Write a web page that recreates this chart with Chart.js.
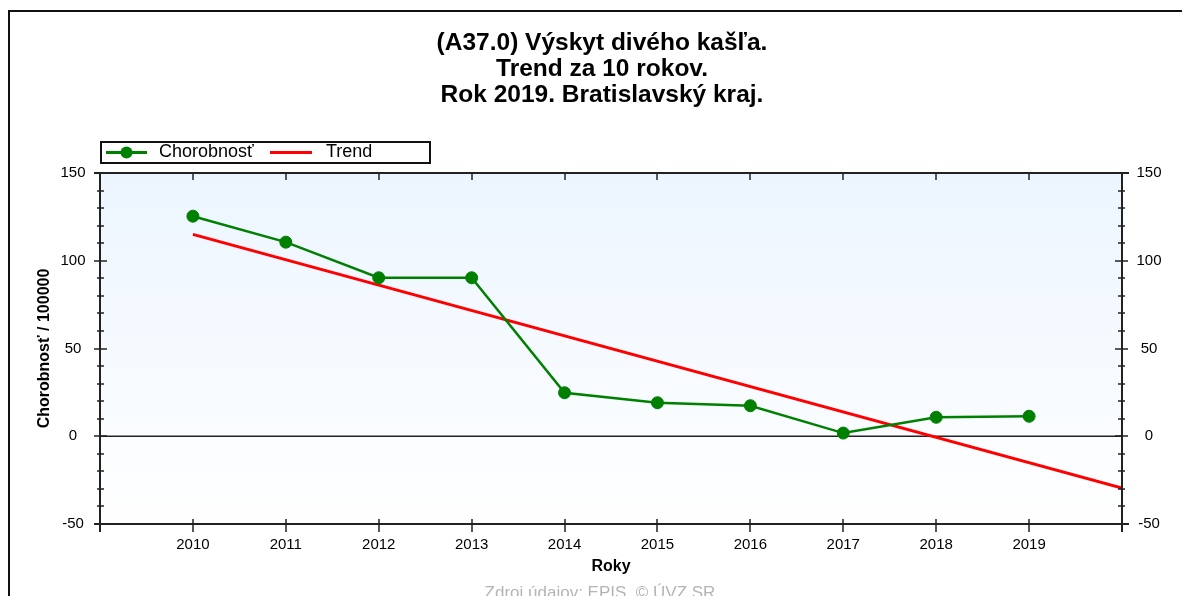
<!DOCTYPE html>
<html>
<head>
<meta charset="utf-8">
<script src="https://cdn.jsdelivr.net/npm/chart.js@4/dist/chart.umd.min.js"></script>
<style>
  html, body { margin: 0; padding: 0; background: #ffffff; }
  #wrap { width: 1182px; height: 596px; position: relative; overflow: hidden; }
</style>
</head>
<body>
<div id="wrap"><canvas id="c" width="1182" height="596"></canvas></div>
<script>
// ---- data ----
const titleLines = ["(A37.0) Výskyt divého kašľa.", "Trend za 10 rokov.", "Rok 2019. Bratislavský kraj."];
const years = [2010, 2011, 2012, 2013, 2014, 2015, 2016, 2017, 2018, 2019];
const incidence = [125.4, 110.6, 90.3, 90.3, 24.8, 19.1, 17.4, 1.8, 10.8, 11.4];
const trendYears = [2010, 2020];
const trendValues = [115.0, -29.5];
const yTicks = [-50, 0, 50, 100, 150];
const seriesNames = ["Chorobnosť", "Trend"];
const yAxisTitle = "Chorobnosť / 100000";
const xAxisTitle = "Roky";
const sourceText = "Zdroj údajov: EPIS, © ÚVZ SR";

const FONT = "'Liberation Sans', Arial, sans-serif";
Chart.defaults.font.family = FONT;
Chart.defaults.color = '#000';

const GREEN = '#008000';
const RED = '#ff0000';

const decorPlugin = {
  id: 'decor',
  beforeDraw(chart) {
    const ctx = chart.ctx;
    const a = chart.chartArea;
    ctx.save();
    ctx.fillStyle = '#ffffff';
    ctx.fillRect(0, 0, chart.width, chart.height);
    const g = ctx.createLinearGradient(0, a.top, 0, a.bottom);
    g.addColorStop(0, '#ecf5ff');
    g.addColorStop(1, '#ffffff');
    ctx.fillStyle = g;
    ctx.fillRect(a.left, a.top, a.right - a.left, a.bottom - a.top);
    ctx.restore();
  },
  beforeDatasetsDraw(chart) {
    const ctx = chart.ctx;
    const a = chart.chartArea;
    const y0 = chart.scales.y.getPixelForValue(0);
    ctx.save();
    ctx.strokeStyle = '#222';
    ctx.lineWidth = 1.5;
    ctx.beginPath();
    ctx.moveTo(a.left, y0);
    ctx.lineTo(a.right, y0);
    ctx.stroke();
    ctx.restore();
  },
  afterDraw(chart) {
    const ctx = chart.ctx;
    const a = chart.chartArea;
    const xs = chart.scales.x;
    const ys = chart.scales.y;
    ctx.save();
    // outer frame
    ctx.fillStyle = '#111';
    ctx.fillRect(8, 10, chart.width - 8, 2);
    ctx.fillRect(8, 10, 2, chart.height - 10);

    // axes frame
    ctx.strokeStyle = '#222';
    ctx.lineWidth = 2;
    ctx.beginPath();
    ctx.moveTo(a.left - 6, a.top); ctx.lineTo(a.right + 7, a.top);
    ctx.moveTo(a.left - 6, a.bottom); ctx.lineTo(a.right + 7, a.bottom);
    ctx.moveTo(a.left, a.top); ctx.lineTo(a.left, a.bottom + 8);
    ctx.moveTo(a.right, a.top); ctx.lineTo(a.right, a.bottom + 8);
    ctx.stroke();

    // y ticks (major crossing, minor small)
    ctx.lineWidth = 1.5;
    ctx.beginPath();
    for (let v = ys.min; v <= ys.max; v += 10) {
      const py = Math.round(ys.getPixelForValue(v));
      const major = (v % 50 === 0);
      const l = major ? 6 : 3;
      ctx.moveTo(a.left - l, py); ctx.lineTo(a.left + l + 1, py);
      ctx.moveTo(a.right - l - 1, py); ctx.lineTo(a.right + l, py);
    }
    // x ticks
    for (let v = xs.min; v <= xs.max; v += 1) {
      const px = Math.round(xs.getPixelForValue(v));
      ctx.moveTo(px, a.bottom - 5); ctx.lineTo(px, a.bottom + 8);
      ctx.moveTo(px, a.top); ctx.lineTo(px, a.top + 7);
    }
    ctx.stroke();

    // title
    ctx.fillStyle = '#000';
    ctx.textAlign = 'center';
    ctx.textBaseline = 'alphabetic';
    ctx.font = 'bold 24.5px ' + FONT;
    const tx = 602;
    const baselines = [50, 75.5, 101.5];
    titleLines.forEach((t, i) => ctx.fillText(t, tx, baselines[i]));

    // legend
    ctx.lineWidth = 2;
    ctx.strokeStyle = '#111';
    ctx.strokeRect(101, 142, 329, 21);
    const ly = 152.5;
    ctx.strokeStyle = GREEN;
    ctx.lineWidth = 3;
    ctx.beginPath(); ctx.moveTo(106, ly); ctx.lineTo(147, ly); ctx.stroke();
    ctx.fillStyle = GREEN;
    ctx.beginPath(); ctx.arc(126.5, ly, 6, 0, Math.PI * 2); ctx.fill();
    ctx.strokeStyle = RED;
    ctx.beginPath(); ctx.moveTo(270, ly); ctx.lineTo(312, ly); ctx.stroke();
    ctx.fillStyle = '#000';
    ctx.font = '18px ' + FONT;
    ctx.textAlign = 'left';
    ctx.textBaseline = 'middle';
    ctx.fillText(chart.data.datasets[0].label, 159, ly);
    ctx.fillText(chart.data.datasets[1].label, 326, ly);

    // source
    ctx.fillStyle = '#b4b4b4';
    ctx.font = '17px ' + FONT;
    ctx.textAlign = 'center';
    ctx.textBaseline = 'alphabetic';
    ctx.fillText(sourceText, 600, 598);
    ctx.restore();
  }
};

new Chart(document.getElementById('c'), {
  type: 'line',
  data: {
    datasets: [
      {
        label: seriesNames[0],
        data: years.map((x, i) => ({ x: x, y: incidence[i] })),
        borderColor: GREEN,
        backgroundColor: GREEN,
        borderWidth: 2.5,
        pointRadius: 6,
        pointBorderWidth: 1,
        pointBackgroundColor: GREEN,
        pointBorderColor: GREEN,
        tension: 0,
        yAxisID: 'y'
      },
      {
        label: seriesNames[1],
        data: trendYears.map((x, i) => ({ x: x, y: trendValues[i] })),
        borderColor: RED,
        backgroundColor: RED,
        borderWidth: 3,
        pointRadius: 0,
        tension: 0,
        yAxisID: 'y'
      }
    ]
  },
  options: {
    responsive: false,
    animation: false,
    events: [],
    layout: { padding: { top: 173, left: 0, right: 0, bottom: 0 } },
    plugins: {
      legend: { display: false },
      title: { display: false },
      tooltip: { enabled: false }
    },
    scales: {
      x: {
        type: 'linear',
        position: 'bottom',
        min: 2009,
        max: 2020,
        grid: { display: false, drawTicks: false },
        border: { display: false },
        ticks: {
          stepSize: 1,
          padding: 12,
          font: { size: 15 },
          color: '#000',
          callback: (v) => (years.includes(v) ? String(v) : '')
        },
        title: { display: true, text: xAxisTitle, font: { size: 16, weight: 'bold' }, color: '#000', padding: { top: 0, bottom: 20 } },
        afterFit: (s) => { s.height = 72; }
      },
      y: {
        position: 'left',
        min: yTicks[0],
        max: yTicks[yTicks.length - 1],
        grid: { display: false, drawTicks: false },
        border: { display: false },
        ticks: {
          stepSize: 50,
          padding: 14.5,
          crossAlign: 'center',
          font: { size: 15 },
          color: '#000',
          callback: (v) => String(v)
        },
        title: { display: true, text: yAxisTitle, font: { size: 16, weight: 'bold' }, color: '#000', padding: { top: 35, bottom: 0 } },
        afterFit: (s) => { s.width = 100; }
      },
      y2: {
        position: 'right',
        min: yTicks[0],
        max: yTicks[yTicks.length - 1],
        grid: { display: false, drawTicks: false },
        border: { display: false },
        ticks: {
          stepSize: 50,
          padding: 14.5,
          crossAlign: 'center',
          font: { size: 15 },
          color: '#000',
          callback: (v) => String(v)
        },
        afterFit: (s) => { s.width = 60; }
      }
    }
  },
  plugins: [decorPlugin]
});
</script>
</body>
</html>
